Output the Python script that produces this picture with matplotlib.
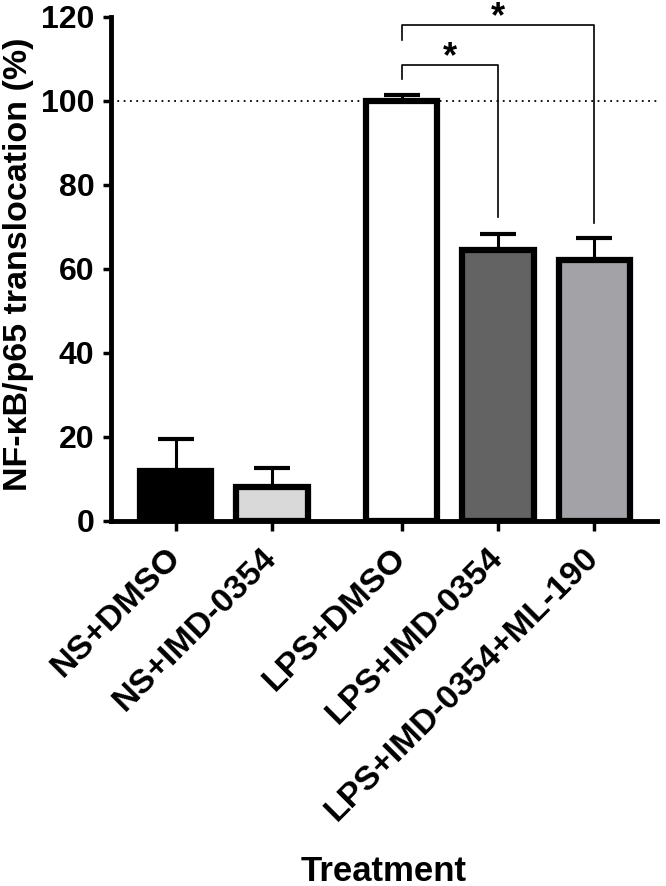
import numpy as np
import matplotlib.pyplot as plt

plt.rcParams['font.family'] = ['Liberation Sans', 'DejaVu Sans']
plt.rcParams['font.weight'] = 'bold'

# Данные
groups = ['NS+DMSO', 'NS+IMD-0354', 'LPS+DMSO', 'LPS+IMD-0354', 'LPS+IMD-0354+ML-190']
values = [12.0, 8.0, 100.0, 64.6, 62.0]
errors = [7.6, 4.7, 1.3, 3.8, 5.3]
colors = ['#000000', '#d9d9d9', '#ffffff', '#636363', '#a3a2a7']
positions = [0, 1, 2.35, 3.35, 4.35]

# Значимые различия: (i, j, высота скобки, низ левой ноги, низ правой ноги)
sig_pairs = [(2, 3, 108.6, 105.2, 72.4), (2, 4, 118.1, 114.5, 71.0)]
sig_marks = ['*', '*']

fig = plt.figure(figsize=(6.66, 8.86), dpi=100)
ax = fig.add_axes([0.1667, 0.412, 0.8193, 0.569])

ax.bar(positions, values, width=0.74, color=colors, edgecolor='black',
       linewidth=4.5, zorder=3)
ax.errorbar(positions, values, yerr=[np.zeros(len(values)), errors], fmt='none',
            ecolor='black', elinewidth=2.2, capsize=13, capthick=3, zorder=2)

ax.axhline(100, color='black', linestyle=(0, (1, 2.5)), linewidth=1.3, zorder=1)

for (i, j, h, yl, yr), mark in zip(sig_pairs, sig_marks):
    x1, x2 = positions[i], positions[j]
    ax.plot([x1, x1, x2, x2], [yl, h, h, yr], color='black', linewidth=1.2,
            clip_on=False, zorder=4)
    ax.text((x1 + x2) / 2, h - 2.5, mark, ha='center', va='bottom',
            fontsize=26, fontweight='bold', clip_on=False)

ax.set_xlim(-0.675, 5.0)
ax.set_ylim(0, 120)
ax.set_yticks(np.arange(0, 121, 20))
ax.set_xticks(positions)
ax.set_xticklabels(groups, rotation=45, ha='right', va='center',
                   rotation_mode='anchor', fontsize=24.5, fontweight='bold')
ax.tick_params(axis='y', labelsize=23, width=2.5, length=6, pad=6)
ax.tick_params(axis='x', width=2.5, length=7, pad=16)
for lab in ax.get_yticklabels():
    lab.set_fontweight('bold')

for s in ['top', 'right']:
    ax.spines[s].set_visible(False)
for s in ['left', 'bottom']:
    ax.spines[s].set_linewidth(3.5)

ax.set_ylabel('NF-κB/p65 translocation (%)', fontsize=24.5, fontweight='bold')
ax.yaxis.set_label_coords(-0.142, 0.51)
ax.set_xlabel('Treatment', fontsize=25, fontweight='bold', labelpad=20)

fig.savefig('out.png', dpi=100)
